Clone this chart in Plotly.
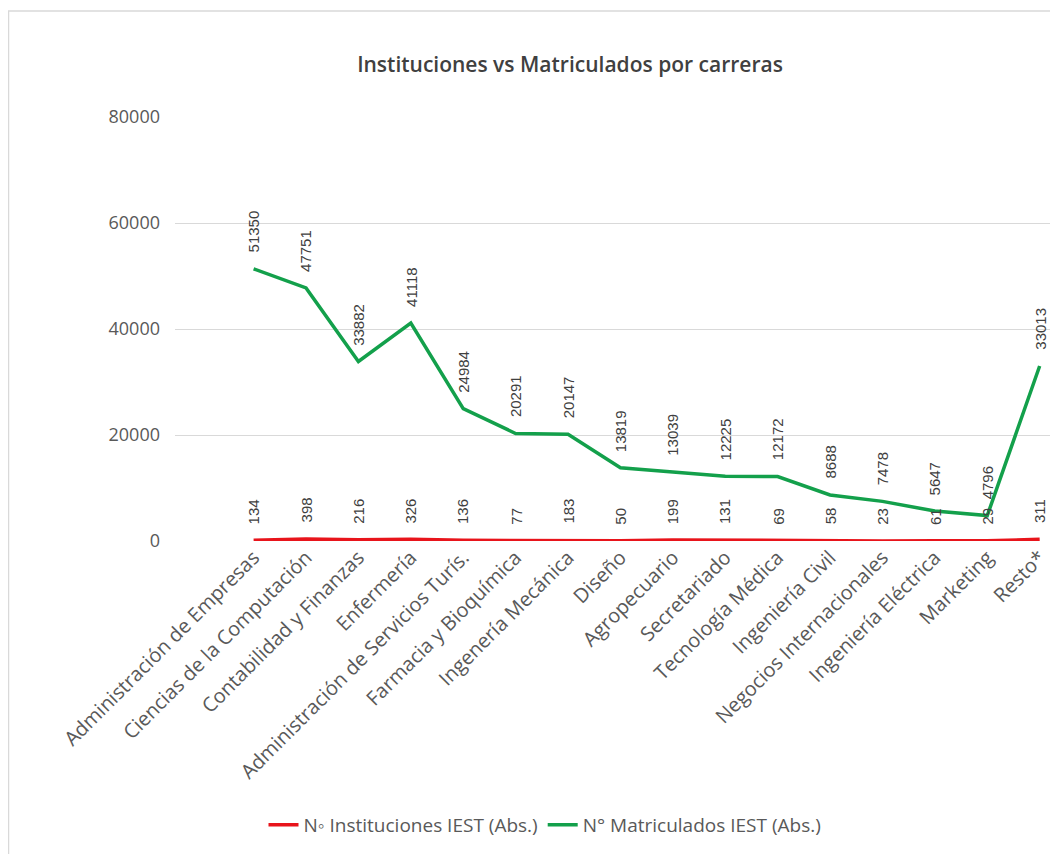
import plotly.graph_objects as go

carreras = [
    "Administración de Empresas", "Ciencias de la Computación", "Contabilidad y Finanzas",
    "Enfermería", "Administración de Servicios Turís.", "Farmacia y Bioquímica",
    "Ingenería Mecánica", "Diseño", "Agropecuario", "Secretariado", "Tecnología Médica",
    "Ingeniería Civil", "Negocios Internacionales", "Ingeniería Eléctrica", "Marketing", "Resto*",
]
instituciones = [134, 398, 216, 326, 136, 77, 183, 50, 199, 131, 69, 58, 23, 61, 29, 311]
matriculados = [51350, 47751, 33882, 41118, 24984, 20291, 20147, 13819, 13039, 12225,
                12172, 8688, 7478, 5647, 4796, 33013]
y_ticks = [0, 20000, 40000, 60000, 80000]

RED = "#E8141B"
GREEN = "#13A04B"
LABEL_FONT = dict(family="Liberation Sans", size=15, color="#404040")
TICK_FONT = dict(family="Open Sans", size=20, color="#595959")
AXIS_FONT = dict(family="Open Sans", size=18, color="#595959")
LEGEND_FONT = dict(family="Open Sans", size=19, color="#595959")

# the page has an 8px body margin, so the figure is smaller and shifted
OFF = 8
# plot area in page pixels: x 175..1058, y 117..541
PW, PH = 883, 424


def px(x):
    return (x - 175) / PW


def py(y):
    return (541 - y) / PH


fig = go.Figure()
fig.add_trace(go.Scatter(
    x=carreras, y=instituciones, mode="lines", name="N◦ Instituciones IEST (Abs.)",
    line=dict(color=RED, width=3.5),
))
fig.add_trace(go.Scatter(
    x=carreras, y=matriculados, mode="lines", name="N° Matriculados IEST (Abs.)",
    line=dict(color=GREEN, width=3.5),
))

annotations = []
for c, v in zip(carreras, matriculados):
    annotations.append(dict(x=c, y=v, text=str(v), showarrow=False, textangle=-90,
                            yanchor="bottom", yshift=14, font=LABEL_FONT))
for c, v in zip(carreras, instituciones):
    annotations.append(dict(x=c, y=v, text=str(v), showarrow=False, textangle=-90,
                            yanchor="bottom", yshift=14, font=LABEL_FONT))

fig_w = 1058 - OFF
fig_h = 862 - 2 * OFF
fig.update_layout(
    width=fig_w, height=fig_h,
    margin=dict(l=175 - OFF, r=0, t=117 - OFF, b=fig_h - (541 - OFF), autoexpand=False),
    paper_bgcolor="white", plot_bgcolor="white",
    title=dict(text="Instituciones vs Matriculados por carreras", x=(570 - OFF) / fig_w,
               xanchor="center", y=1 - (65 - OFF) / fig_h, yanchor="middle",
               font=dict(family="Open Sans", size=21, color="#404040", weight=600)),
    xaxis=dict(range=[-1.5, 15.35], showgrid=False, zeroline=False, showline=False,
               tickangle=-45, ticks="", automargin=False, tickfont=TICK_FONT),
    yaxis=dict(range=[0, 80000], tickvals=y_ticks, tickformat="d", showgrid=True,
               gridcolor="#D9D9D9", gridwidth=1, zeroline=False, showline=False, ticks="",
               ticklabelstandoff=14, automargin=False, tickfont=AXIS_FONT),
    legend=dict(orientation="h", x=px(545), xanchor="center",
                y=py(825), yanchor="middle", font=LEGEND_FONT),
    annotations=annotations,
    shapes=[
        dict(type="rect", xref="paper", yref="paper", x0=px(8.5), x1=px(1080), y0=py(900), y1=py(11),
             line=dict(color="#D9D9D9", width=1.5)),
    ],
)

fig.write_html("out.html")
